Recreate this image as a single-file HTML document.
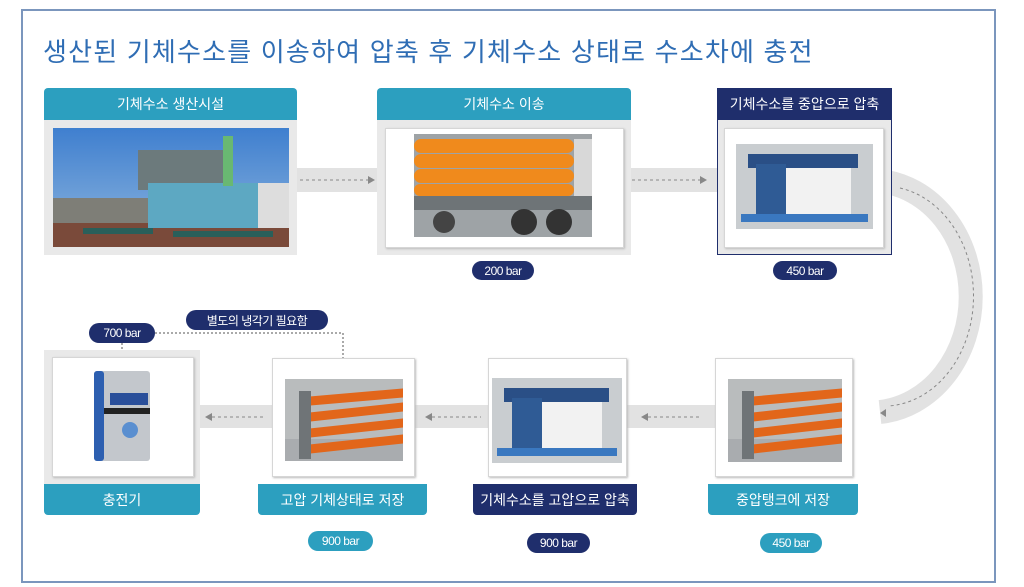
<!DOCTYPE html>
<html><head><meta charset="utf-8"><style>
*{margin:0;padding:0;box-sizing:border-box}
body{width:1024px;height:587px;background:#fff;position:relative;overflow:hidden;font-family:"Liberation Sans","Noto Sans CJK KR",sans-serif}
.a{position:absolute}
.hd{position:absolute;color:#fff;font-size:14px;display:flex;align-items:center;justify-content:center;border-radius:4px 4px 0 0}
.teal{background:#2c9fbf}
.navy{background:#1f2e6c}
.pill{position:absolute;color:#fff;font-size:12px;border-radius:10px;display:flex;align-items:center;justify-content:center;letter-spacing:-0.5px}
.wb{position:absolute;background:#fff;border:1px solid #d6d6d6;box-shadow:1px 1px 2px #bbb}
.gb{position:absolute;background:#e9e9e9}
</style></head><body>
<div class="a" style="left:21px;top:9px;width:975px;height:574px;border:2px solid #7b96bd"></div>
<div class="a" style="left:43px;top:32px;font-size:26px;color:#2f6db4;letter-spacing:1.2px;white-space:nowrap">생산된 기체수소를 이송하여 압축 후 기체수소 상태로 수소차에 충전</div>

<svg class="a" style="left:0;top:0" width="1024" height="587">
 <g fill="#e2e2e2">
  <rect x="297" y="168" width="80" height="24"/>
  <rect x="631" y="168" width="86" height="24"/>
  <rect x="200" y="405" width="72" height="23"/>
  <rect x="415" y="405" width="73" height="23"/>
  <rect x="627" y="405" width="88" height="23"/>
 </g>
 <path d="M880 181 A100 116 0 0 1 880 412" fill="none" stroke="#e2e2e2" stroke-width="24"/>
 <path d="M900 188 A90 110 0 0 1 888 406" fill="none" stroke="#888" stroke-width="1" stroke-dasharray="3,3"/>
 <g stroke="#888" stroke-width="1" stroke-dasharray="3,3">
  <line x1="300" y1="180" x2="368" y2="180"/>
  <line x1="632" y1="180" x2="700" y2="180"/>
  <line x1="212" y1="417" x2="265" y2="417"/>
  <line x1="432" y1="417" x2="481" y2="417"/>
  <line x1="648" y1="417" x2="700" y2="417"/>
 </g>
 <g fill="#888">
  <path d="M368 176 L375 180 L368 184Z"/><path d="M700 176 L707 180 L700 184Z"/>
  <path d="M212 413 L205 417 L212 421Z"/><path d="M432 413 L425 417 L432 421Z"/><path d="M648 413 L641 417 L648 421Z"/>
  <path d="M886 409 L880 413 L886 417Z"/>
 </g>
 <g stroke="#555" stroke-width="1" stroke-dasharray="2,2" fill="none">
  <path d="M155 333 L343 333 L343 358"/>
  <line x1="122" y1="343" x2="122" y2="357"/>
 </g>
</svg>

<!-- top row -->
<div class="gb" style="left:44px;top:120px;width:253px;height:135px"></div>
<div class="hd teal" style="left:44px;top:88px;width:253px;height:32px">기체수소 생산시설</div>
<svg class="a" style="left:53px;top:128px" width="236" height="119">
 <defs><linearGradient id="sk" x1="0" y1="0" x2="0" y2="1"><stop offset="0" stop-color="#3f7fcf"/><stop offset="1" stop-color="#8fb6de"/></linearGradient></defs>
 <rect width="236" height="119" fill="url(#sk)"/>
 <rect x="0" y="95" width="236" height="24" fill="#7a4a3a"/>
 <rect x="85" y="22" width="95" height="40" fill="#6c7a7c"/>
 <rect x="95" y="55" width="110" height="45" fill="#5da8c2"/>
 <rect x="170" y="8" width="10" height="50" fill="#69b872"/>
 <rect x="205" y="55" width="31" height="45" fill="#ddd"/>
 <rect x="0" y="70" width="95" height="25" fill="#7e7e77"/>
 <rect x="30" y="100" width="70" height="6" fill="#2a5f5a"/>
 <rect x="120" y="103" width="100" height="6" fill="#2a5f5a"/>
</svg>

<div class="gb" style="left:377px;top:120px;width:254px;height:135px"></div>
<div class="hd teal" style="left:377px;top:88px;width:254px;height:32px">기체수소 이송</div>
<div class="wb" style="left:385px;top:128px;width:239px;height:120px"></div>
<svg class="a" style="left:414px;top:134px" width="178" height="103">
 <rect width="178" height="103" fill="#9ea3a6"/>
 <g fill="#f08a1c"><rect x="0" y="5" width="160" height="14" rx="7"/><rect x="0" y="20" width="160" height="14" rx="7"/><rect x="0" y="35" width="160" height="14" rx="7"/><rect x="0" y="50" width="160" height="12" rx="6"/></g>
 <rect x="160" y="5" width="18" height="60" fill="#d8d8d8"/>
 <rect x="0" y="62" width="178" height="14" fill="#6e7477"/>
 <circle cx="110" cy="88" r="13" fill="#333"/><circle cx="145" cy="88" r="13" fill="#333"/><circle cx="30" cy="88" r="11" fill="#444"/>
</svg>

<div class="a" style="left:717px;top:88px;width:175px;height:167px;border:1.5px solid #1f2e6c;background:#e9e9e9"></div>
<div class="hd navy" style="left:717px;top:88px;width:175px;height:32px">기체수소를 중압으로 압축</div>
<div class="wb" style="left:724px;top:128px;width:160px;height:120px"></div>
<svg class="a" style="left:736px;top:144px" width="137" height="85">
 <rect width="137" height="85" fill="#c9cdd0"/>
 <rect x="12" y="10" width="110" height="14" fill="#2a4f86"/>
 <rect x="20" y="20" width="30" height="52" fill="#2f5b95"/>
 <rect x="50" y="24" width="65" height="46" fill="#f2f2f2"/>
 <rect x="5" y="70" width="127" height="8" fill="#3a78c0"/>
</svg>
<div class="pill navy" style="left:472px;top:261px;width:62px;height:19px">200 bar</div>
<div class="pill navy" style="left:773px;top:261px;width:64px;height:19px">450 bar</div>

<!-- bottom row -->
<div class="gb" style="left:44px;top:350px;width:156px;height:135px"></div>
<div class="wb" style="left:52px;top:357px;width:142px;height:120px"></div>
<svg class="a" style="left:90px;top:368px" width="64" height="96">
 <rect x="4" y="3" width="56" height="90" rx="3" fill="#c3c7cc"/>
 <rect x="4" y="3" width="10" height="90" rx="3" fill="#2d5fb0"/>
 <rect x="20" y="25" width="38" height="12" fill="#2a4f9a"/>
 <rect x="14" y="40" width="46" height="6" fill="#222"/>
 <circle cx="40" cy="62" r="8" fill="#5a8fd0"/>
</svg>
<div class="hd teal" style="left:44px;top:484px;width:156px;height:31px;border-radius:0 0 4px 4px">충전기</div>
<div class="pill navy" style="left:89px;top:323px;width:66px;height:20px">700 bar</div>
<div class="pill navy" style="left:186px;top:310px;width:142px;height:20px">별도의 냉각기 필요함</div>

<div class="wb" style="left:272px;top:358px;width:143px;height:119px"></div>
<svg class="a" style="left:285px;top:379px" width="118" height="82">
 <rect width="118" height="82" fill="#b9bcbd"/>
 <rect x="0" y="60" width="118" height="22" fill="#a9acaf"/>
 <g stroke="#e2661a" stroke-width="9" stroke-linecap="round"><line x1="25" y1="22" x2="118" y2="14"/><line x1="25" y1="38" x2="118" y2="28"/><line x1="25" y1="54" x2="118" y2="44"/><line x1="25" y1="70" x2="118" y2="60"/></g>
 <rect x="14" y="12" width="12" height="68" fill="#6f7477"/>
</svg>
<div class="hd teal" style="left:258px;top:484px;width:169px;height:31px;border-radius:0 0 4px 4px">고압 기체상태로 저장</div>
<div class="pill teal" style="left:308px;top:531px;width:65px;height:20px">900 bar</div>

<div class="wb" style="left:488px;top:358px;width:139px;height:119px"></div>
<svg class="a" style="left:492px;top:378px" width="130" height="85">
 <rect width="130" height="85" fill="#c9cdd0"/>
 <rect x="12" y="10" width="105" height="14" fill="#2a4f86"/>
 <rect x="20" y="20" width="30" height="52" fill="#2f5b95"/>
 <rect x="50" y="24" width="60" height="46" fill="#f2f2f2"/>
 <rect x="5" y="70" width="120" height="8" fill="#3a78c0"/>
</svg>
<div class="hd navy" style="left:473px;top:484px;width:164px;height:31px;border-radius:0 0 4px 4px">기체수소를 고압으로 압축</div>
<div class="pill navy" style="left:527px;top:533px;width:63px;height:20px">900 bar</div>

<div class="wb" style="left:715px;top:358px;width:138px;height:119px"></div>
<svg class="a" style="left:728px;top:379px" width="114" height="83">
 <rect width="114" height="83" fill="#b9bcbd"/>
 <rect x="0" y="60" width="114" height="23" fill="#a9acaf"/>
 <g stroke="#e2661a" stroke-width="9" stroke-linecap="round"><line x1="25" y1="22" x2="114" y2="14"/><line x1="25" y1="38" x2="114" y2="28"/><line x1="25" y1="54" x2="114" y2="44"/><line x1="25" y1="70" x2="114" y2="60"/></g>
 <rect x="14" y="12" width="12" height="68" fill="#6f7477"/>
</svg>
<div class="hd teal" style="left:708px;top:484px;width:150px;height:31px;border-radius:0 0 4px 4px">중압탱크에 저장</div>
<div class="pill teal" style="left:760px;top:533px;width:62px;height:20px">450 bar</div>
</body></html>
